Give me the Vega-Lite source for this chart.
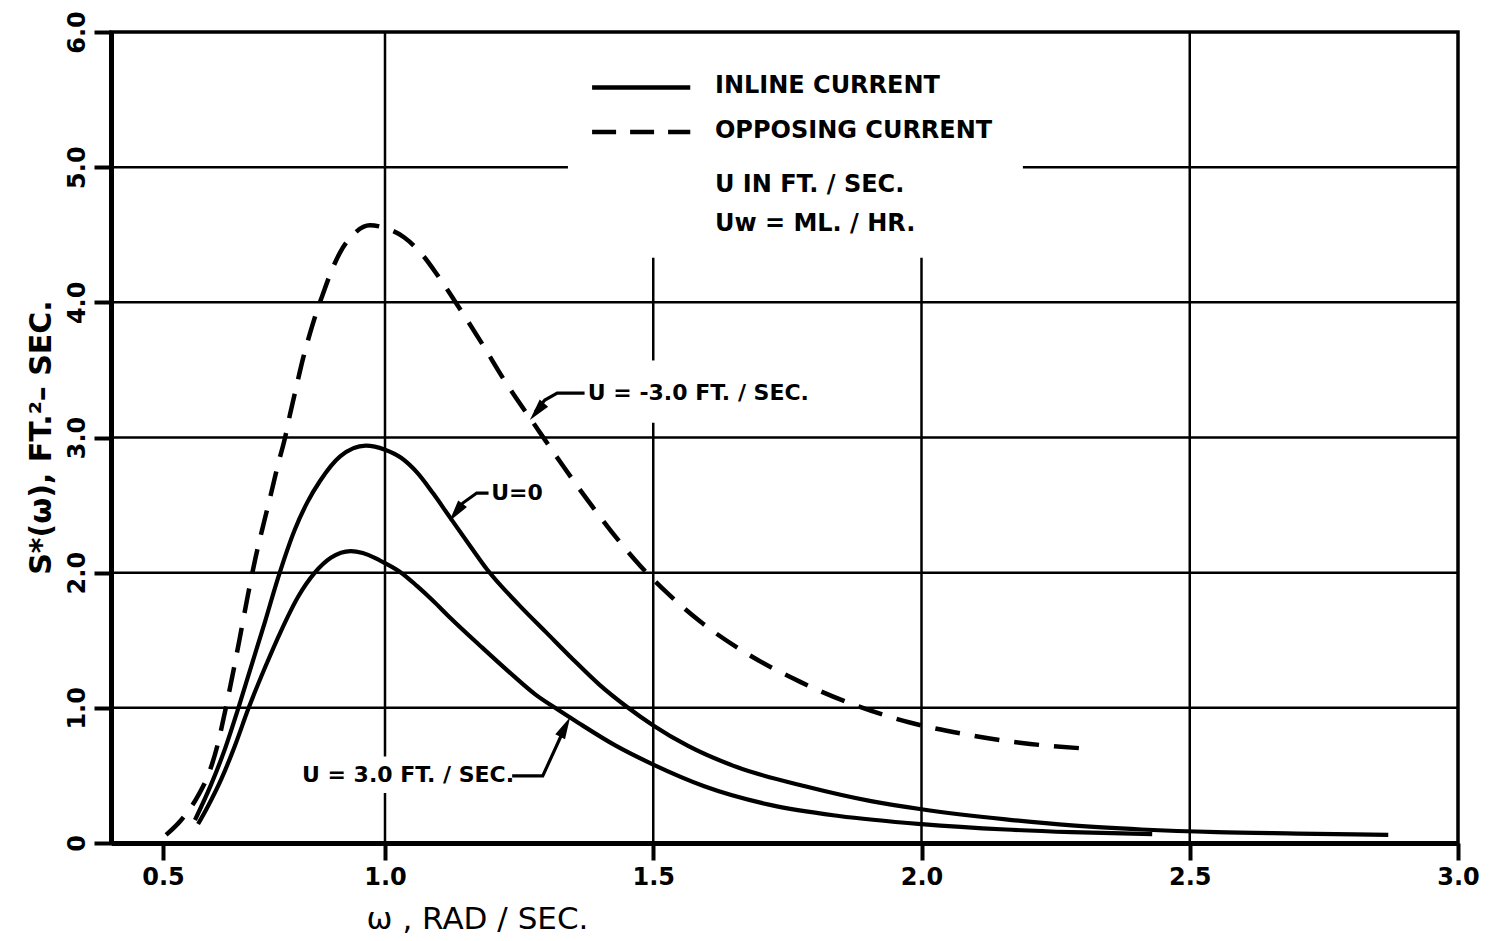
{
  "$schema": "https://vega.github.io/schema/vega-lite/v6.json",
  "width": 1347,
  "height": 811,
  "autosize": {"type": "none"},
  "padding": {"left": 111, "top": 32, "right": 34, "bottom": 98},
  "background": "white",
  "config": {"view": {"stroke": "black", "strokeWidth": 3.5}, "font": "DejaVu Sans"},
  "datasets": {
    "grid": [
      {"dir": "v", "w": 1.0, "s": 0, "s2": 0.37},
      {"dir": "v", "w": 1.0, "s": 0.64, "s2": 6},
      {"dir": "v", "w": 1.5, "s": 0, "s2": 3.11},
      {"dir": "v", "w": 1.5, "s": 3.57, "s2": 4.33},
      {"dir": "v", "w": 2.0, "s": 0, "s2": 4.33},
      {"dir": "v", "w": 2.5, "s": 0, "s2": 6},
      {"dir": "h", "s": 1, "w": 0.4, "w2": 3},
      {"dir": "h", "s": 2, "w": 0.4, "w2": 3},
      {"dir": "h", "s": 3, "w": 0.4, "w2": 3},
      {"dir": "h", "s": 4, "w": 0.4, "w2": 3},
      {"dir": "h", "s": 5, "w": 0.4, "w2": 1.341},
      {"dir": "h", "s": 5, "w": 2.189, "w2": 3}
    ],
    "curves": [
      {"curve": "U=-3.0", "w": 0.507, "s": 0.06},
      {"curve": "U=-3.0", "w": 0.541, "s": 0.17},
      {"curve": "U=-3.0", "w": 0.579, "s": 0.35},
      {"curve": "U=-3.0", "w": 0.606, "s": 0.54},
      {"curve": "U=-3.0", "w": 0.624, "s": 0.74},
      {"curve": "U=-3.0", "w": 0.635, "s": 0.9},
      {"curve": "U=-3.0", "w": 0.646, "s": 1.07},
      {"curve": "U=-3.0", "w": 0.662, "s": 1.33},
      {"curve": "U=-3.0", "w": 0.676, "s": 1.57},
      {"curve": "U=-3.0", "w": 0.691, "s": 1.83},
      {"curve": "U=-3.0", "w": 0.709, "s": 2.12},
      {"curve": "U=-3.0", "w": 0.728, "s": 2.38},
      {"curve": "U=-3.0", "w": 0.743, "s": 2.58},
      {"curve": "U=-3.0", "w": 0.759, "s": 2.8},
      {"curve": "U=-3.0", "w": 0.775, "s": 3.0},
      {"curve": "U=-3.0", "w": 0.786, "s": 3.17},
      {"curve": "U=-3.0", "w": 0.8, "s": 3.37},
      {"curve": "U=-3.0", "w": 0.815, "s": 3.58},
      {"curve": "U=-3.0", "w": 0.831, "s": 3.77},
      {"curve": "U=-3.0", "w": 0.845, "s": 3.92},
      {"curve": "U=-3.0", "w": 0.86, "s": 4.06},
      {"curve": "U=-3.0", "w": 0.878, "s": 4.22},
      {"curve": "U=-3.0", "w": 0.899, "s": 4.37},
      {"curve": "U=-3.0", "w": 0.928, "s": 4.5},
      {"curve": "U=-3.0", "w": 0.966, "s": 4.57},
      {"curve": "U=-3.0", "w": 1.0, "s": 4.55},
      {"curve": "U=-3.0", "w": 1.036, "s": 4.48},
      {"curve": "U=-3.0", "w": 1.07, "s": 4.35},
      {"curve": "U=-3.0", "w": 1.098, "s": 4.2},
      {"curve": "U=-3.0", "w": 1.13, "s": 4.01},
      {"curve": "U=-3.0", "w": 1.18, "s": 3.7},
      {"curve": "U=-3.0", "w": 1.223, "s": 3.42},
      {"curve": "U=-3.0", "w": 1.283, "s": 3.07},
      {"curve": "U=-3.0", "w": 1.33, "s": 2.8},
      {"curve": "U=-3.0", "w": 1.377, "s": 2.54},
      {"curve": "U=-3.0", "w": 1.433, "s": 2.25},
      {"curve": "U=-3.0", "w": 1.476, "s": 2.05},
      {"curve": "U=-3.0", "w": 1.526, "s": 1.85},
      {"curve": "U=-3.0", "w": 1.587, "s": 1.64},
      {"curve": "U=-3.0", "w": 1.667, "s": 1.42},
      {"curve": "U=-3.0", "w": 1.775, "s": 1.19},
      {"curve": "U=-3.0", "w": 1.876, "s": 1.02},
      {"curve": "U=-3.0", "w": 1.98, "s": 0.89},
      {"curve": "U=-3.0", "w": 2.088, "s": 0.8},
      {"curve": "U=-3.0", "w": 2.187, "s": 0.74},
      {"curve": "U=-3.0", "w": 2.3, "s": 0.7},
      {"curve": "U=0", "w": 0.572, "s": 0.17},
      {"curve": "U=0", "w": 0.608, "s": 0.43},
      {"curve": "U=0", "w": 0.64, "s": 0.7},
      {"curve": "U=0", "w": 0.669, "s": 0.99},
      {"curve": "U=0", "w": 0.698, "s": 1.3},
      {"curve": "U=0", "w": 0.73, "s": 1.64},
      {"curve": "U=0", "w": 0.759, "s": 1.96},
      {"curve": "U=0", "w": 0.797, "s": 2.32},
      {"curve": "U=0", "w": 0.825, "s": 2.52},
      {"curve": "U=0", "w": 0.854, "s": 2.68},
      {"curve": "U=0", "w": 0.899, "s": 2.86},
      {"curve": "U=0", "w": 0.957, "s": 2.94},
      {"curve": "U=0", "w": 1.0, "s": 2.91},
      {"curve": "U=0", "w": 1.03, "s": 2.85},
      {"curve": "U=0", "w": 1.06, "s": 2.74},
      {"curve": "U=0", "w": 1.09, "s": 2.585},
      {"curve": "U=0", "w": 1.12, "s": 2.415},
      {"curve": "U=0", "w": 1.16, "s": 2.19},
      {"curve": "U=0", "w": 1.19, "s": 2.025},
      {"curve": "U=0", "w": 1.25, "s": 1.76},
      {"curve": "U=0", "w": 1.3, "s": 1.56},
      {"curve": "U=0", "w": 1.35, "s": 1.36},
      {"curve": "U=0", "w": 1.4, "s": 1.17},
      {"curve": "U=0", "w": 1.45, "s": 1.01},
      {"curve": "U=0", "w": 1.5, "s": 0.87},
      {"curve": "U=0", "w": 1.564, "s": 0.72},
      {"curve": "U=0", "w": 1.657, "s": 0.56},
      {"curve": "U=0", "w": 1.783, "s": 0.42},
      {"curve": "U=0", "w": 1.906, "s": 0.31},
      {"curve": "U=0", "w": 2.0, "s": 0.25},
      {"curve": "U=0", "w": 2.157, "s": 0.175},
      {"curve": "U=0", "w": 2.28, "s": 0.13},
      {"curve": "U=0", "w": 2.41, "s": 0.1},
      {"curve": "U=0", "w": 2.55, "s": 0.08},
      {"curve": "U=0", "w": 2.7, "s": 0.07},
      {"curve": "U=0", "w": 2.87, "s": 0.06},
      {"curve": "U=3.0", "w": 0.579, "s": 0.14},
      {"curve": "U=3.0", "w": 0.601, "s": 0.27},
      {"curve": "U=3.0", "w": 0.631, "s": 0.47},
      {"curve": "U=3.0", "w": 0.662, "s": 0.72},
      {"curve": "U=3.0", "w": 0.693, "s": 1.0},
      {"curve": "U=3.0", "w": 0.73, "s": 1.3},
      {"curve": "U=3.0", "w": 0.766, "s": 1.57},
      {"curve": "U=3.0", "w": 0.804, "s": 1.82},
      {"curve": "U=3.0", "w": 0.842, "s": 2.0},
      {"curve": "U=3.0", "w": 0.878, "s": 2.11},
      {"curve": "U=3.0", "w": 0.923, "s": 2.16},
      {"curve": "U=3.0", "w": 0.95, "s": 2.145},
      {"curve": "U=3.0", "w": 0.977, "s": 2.11},
      {"curve": "U=3.0", "w": 1.0, "s": 2.07},
      {"curve": "U=3.0", "w": 1.03, "s": 2.0},
      {"curve": "U=3.0", "w": 1.06, "s": 1.9},
      {"curve": "U=3.0", "w": 1.09, "s": 1.79},
      {"curve": "U=3.0", "w": 1.118, "s": 1.68},
      {"curve": "U=3.0", "w": 1.18, "s": 1.45},
      {"curve": "U=3.0", "w": 1.23, "s": 1.27},
      {"curve": "U=3.0", "w": 1.28, "s": 1.1},
      {"curve": "U=3.0", "w": 1.317, "s": 1.0},
      {"curve": "U=3.0", "w": 1.36, "s": 0.89},
      {"curve": "U=3.0", "w": 1.43, "s": 0.72},
      {"curve": "U=3.0", "w": 1.5, "s": 0.58},
      {"curve": "U=3.0", "w": 1.595, "s": 0.42},
      {"curve": "U=3.0", "w": 1.72, "s": 0.28},
      {"curve": "U=3.0", "w": 1.846, "s": 0.2},
      {"curve": "U=3.0", "w": 2.0, "s": 0.14},
      {"curve": "U=3.0", "w": 2.157, "s": 0.1},
      {"curve": "U=3.0", "w": 2.28, "s": 0.08},
      {"curve": "U=3.0", "w": 2.43, "s": 0.065}
    ],
    "legendKeys": [
      {"key": "solid", "w": 1.386, "w2": 1.569, "s": 5.59},
      {"key": "dashed", "w": 1.386, "w2": 1.569, "s": 5.26}
    ],
    "legendText": [
      {"text": "INLINE CURRENT", "w": 1.615, "s": 5.6},
      {"text": "OPPOSING CURRENT", "w": 1.615, "s": 5.27},
      {"text": "U IN FT. / SEC.", "w": 1.615, "s": 4.87},
      {"text": "Uw = ML. / HR.", "w": 1.615, "s": 4.58}
    ],
    "curveLabels": [
      {"text": "U = -3.0 FT. / SEC.", "w": 1.378, "s": 3.33},
      {"text": "U=0", "w": 1.198, "s": 2.59},
      {"text": "U = 3.0 FT. / SEC.", "w": 0.813, "s": 0.5}
    ],
    "leaders": [
      {"id": "m3", "ord": 1, "w": 1.372, "s": 3.328},
      {"id": "m3", "ord": 2, "w": 1.321, "s": 3.328},
      {"id": "m3", "ord": 3, "w": 1.298, "s": 3.277},
      {"id": "m3", "ord": 4, "w": 1.28, "s": 3.19},
      {"id": "u0", "ord": 1, "w": 1.193, "s": 2.589},
      {"id": "u0", "ord": 2, "w": 1.171, "s": 2.589},
      {"id": "u0", "ord": 3, "w": 1.145, "s": 2.515},
      {"id": "u0", "ord": 4, "w": 1.13, "s": 2.44},
      {"id": "p3", "ord": 1, "w": 1.237, "s": 0.496},
      {"id": "p3", "ord": 2, "w": 1.294, "s": 0.496},
      {"id": "p3", "ord": 3, "w": 1.336, "s": 0.86}
    ],
    "tips": [
      {"id": "m3", "w": 1.27, "s": 3.13},
      {"id": "u0", "w": 1.12, "s": 2.38},
      {"id": "p3", "w": 1.345, "s": 0.93}
    ]
  },
  "layer": [
    {
      "data": {"name": "grid"},
      "transform": [{"filter": "datum.dir == 'v'"}],
      "mark": {"type": "rule", "color": "black", "strokeWidth": 2.5},
      "encoding": {
        "x": {
          "field": "w", "type": "quantitative",
          "scale": {"type": "linear", "domain": [0.4, 0.5, 1, 3], "range": [0, 52, 274, 1347], "zero": false, "nice": false},
          "axis": {
            "values": [0.5, 1, 1.5, 2, 2.5, 3], "format": ".1f", "grid": false,
            "domainWidth": 5, "domainColor": "black", "tickColor": "black", "tickWidth": 4, "tickSize": 17,
            "labelFont": "DejaVu Sans", "labelFontWeight": "bold", "labelFontSize": 24, "labelColor": "black",
            "labelPadding": 5, "labelFlush": false, "labelOverlap": false,
            "title": "ω , RAD / SEC.", "titleFont": "DejaVu Sans", "titleFontSize": 31, "titleFontWeight": "normal",
            "titleColor": "black", "titleX": 366, "titleY": 85, "titleBaseline": "alphabetic", "titleAlign": "center",
            "zindex": 1
          }
        },
        "y": {
          "field": "s", "type": "quantitative",
          "scale": {"domain": [0, 6], "zero": false, "nice": false},
          "axis": {
            "values": [0, 1, 2, 3, 4, 5, 6],
            "labelExpr": "datum.value == 0 ? '0' : format(datum.value, '.1f')",
            "grid": false, "domainWidth": 5, "domainColor": "black", "tickColor": "black", "tickWidth": 4, "tickSize": 17,
            "labelAngle": 270, "labelAlign": "center", "labelBaseline": "alphabetic", "labelPadding": 10,
            "labelFont": "DejaVu Sans", "labelFontWeight": "bold", "labelFontSize": 24, "labelColor": "black",
            "labelFlush": false, "labelOverlap": false,
            "title": "S*(ω), FT.²– SEC.", "titleFont": "DejaVu Sans", "titleFontWeight": "bold", "titleFontSize": 30,
            "titleColor": "black", "titleAngle": 270, "titleX": -61, "titleY": 405, "titleBaseline": "alphabetic",
            "titleAlign": "center", "zindex": 1
          }
        },
        "y2": {"field": "s2"}
      }
    },
    {
      "data": {"name": "grid"},
      "transform": [{"filter": "datum.dir == 'h'"}],
      "mark": {"type": "rule", "color": "black", "strokeWidth": 2.5},
      "encoding": {
        "x": {"field": "w", "type": "quantitative", "scale": {"type": "linear", "domain": [0.4, 0.5, 1, 3], "range": [0, 52, 274, 1347], "zero": false, "nice": false}},
        "x2": {"field": "w2"},
        "y": {"field": "s", "type": "quantitative", "scale": {"domain": [0, 6], "zero": false, "nice": false}}
      }
    },
    {
      "data": {"name": "curves"},
      "transform": [{"filter": "datum.curve != 'U=-3.0'"}],
      "mark": {"type": "line", "color": "black", "strokeWidth": 4.2, "interpolate": "monotone"},
      "encoding": {
        "x": {"field": "w", "type": "quantitative", "scale": {"type": "linear", "domain": [0.4, 0.5, 1, 3], "range": [0, 52, 274, 1347], "zero": false, "nice": false}},
        "y": {"field": "s", "type": "quantitative", "scale": {"domain": [0, 6], "zero": false, "nice": false}},
        "detail": {"field": "curve", "type": "nominal"}
      }
    },
    {
      "data": {"name": "curves"},
      "transform": [{"filter": "datum.curve == 'U=-3.0'"}],
      "mark": {"type": "line", "color": "black", "strokeWidth": 4.5, "interpolate": "monotone", "strokeDash": [25, 15]},
      "encoding": {
        "x": {"field": "w", "type": "quantitative", "scale": {"type": "linear", "domain": [0.4, 0.5, 1, 3], "range": [0, 52, 274, 1347], "zero": false, "nice": false}},
        "y": {"field": "s", "type": "quantitative", "scale": {"domain": [0, 6], "zero": false, "nice": false}}
      }
    },
    {
      "data": {"name": "legendKeys"},
      "transform": [{"filter": "datum.key == 'solid'"}],
      "mark": {"type": "rule", "color": "black", "strokeWidth": 4.5},
      "encoding": {
        "x": {"field": "w", "type": "quantitative", "scale": {"type": "linear", "domain": [0.4, 0.5, 1, 3], "range": [0, 52, 274, 1347], "zero": false, "nice": false}},
        "x2": {"field": "w2"},
        "y": {"field": "s", "type": "quantitative", "scale": {"domain": [0, 6], "zero": false, "nice": false}}
      }
    },
    {
      "data": {"name": "legendKeys"},
      "transform": [{"filter": "datum.key == 'dashed'"}],
      "mark": {"type": "rule", "color": "black", "strokeWidth": 4.5, "strokeDash": [24, 14]},
      "encoding": {
        "x": {"field": "w", "type": "quantitative", "scale": {"type": "linear", "domain": [0.4, 0.5, 1, 3], "range": [0, 52, 274, 1347], "zero": false, "nice": false}},
        "x2": {"field": "w2"},
        "y": {"field": "s", "type": "quantitative", "scale": {"domain": [0, 6], "zero": false, "nice": false}}
      }
    },
    {
      "data": {"name": "legendText"},
      "mark": {"type": "text", "align": "left", "baseline": "middle", "font": "DejaVu Sans", "fontWeight": "bold", "fontSize": 24, "color": "black"},
      "encoding": {
        "x": {"field": "w", "type": "quantitative", "scale": {"type": "linear", "domain": [0.4, 0.5, 1, 3], "range": [0, 52, 274, 1347], "zero": false, "nice": false}},
        "y": {"field": "s", "type": "quantitative", "scale": {"domain": [0, 6], "zero": false, "nice": false}},
        "text": {"field": "text"}
      }
    },
    {
      "data": {"name": "curveLabels"},
      "mark": {"type": "text", "align": "left", "baseline": "middle", "font": "DejaVu Sans", "fontWeight": "bold", "fontSize": 22, "color": "black"},
      "encoding": {
        "x": {"field": "w", "type": "quantitative", "scale": {"type": "linear", "domain": [0.4, 0.5, 1, 3], "range": [0, 52, 274, 1347], "zero": false, "nice": false}},
        "y": {"field": "s", "type": "quantitative", "scale": {"domain": [0, 6], "zero": false, "nice": false}},
        "text": {"field": "text"}
      }
    },
    {
      "data": {"name": "leaders"},
      "mark": {"type": "line", "color": "black", "strokeWidth": 3.2},
      "encoding": {
        "x": {"field": "w", "type": "quantitative", "scale": {"type": "linear", "domain": [0.4, 0.5, 1, 3], "range": [0, 52, 274, 1347], "zero": false, "nice": false}},
        "y": {"field": "s", "type": "quantitative", "scale": {"domain": [0, 6], "zero": false, "nice": false}},
        "detail": {"field": "id", "type": "nominal"},
        "order": {"field": "ord", "type": "quantitative"}
      }
    },
    {
      "data": {"name": "tips"},
      "transform": [{"filter": "datum.id == 'm3'"}],
      "mark": {"type": "point", "shape": "M0,0L0.5,2L-0.5,2Z", "filled": true, "color": "black", "opacity": 1, "size": 480, "angle": 220},
      "encoding": {
        "x": {"field": "w", "type": "quantitative", "scale": {"type": "linear", "domain": [0.4, 0.5, 1, 3], "range": [0, 52, 274, 1347], "zero": false, "nice": false}},
        "y": {"field": "s", "type": "quantitative", "scale": {"domain": [0, 6], "zero": false, "nice": false}}
      }
    },
    {
      "data": {"name": "tips"},
      "transform": [{"filter": "datum.id == 'u0'"}],
      "mark": {"type": "point", "shape": "M0,0L0.5,2L-0.5,2Z", "filled": true, "color": "black", "opacity": 1, "size": 480, "angle": 217},
      "encoding": {
        "x": {"field": "w", "type": "quantitative", "scale": {"type": "linear", "domain": [0.4, 0.5, 1, 3], "range": [0, 52, 274, 1347], "zero": false, "nice": false}},
        "y": {"field": "s", "type": "quantitative", "scale": {"domain": [0, 6], "zero": false, "nice": false}}
      }
    },
    {
      "data": {"name": "tips"},
      "transform": [{"filter": "datum.id == 'p3'"}],
      "mark": {"type": "point", "shape": "M0,0L0.5,2L-0.5,2Z", "filled": true, "color": "black", "opacity": 1, "size": 480, "angle": 27},
      "encoding": {
        "x": {"field": "w", "type": "quantitative", "scale": {"type": "linear", "domain": [0.4, 0.5, 1, 3], "range": [0, 52, 274, 1347], "zero": false, "nice": false}},
        "y": {"field": "s", "type": "quantitative", "scale": {"domain": [0, 6], "zero": false, "nice": false}}
      }
    }
  ]
}
